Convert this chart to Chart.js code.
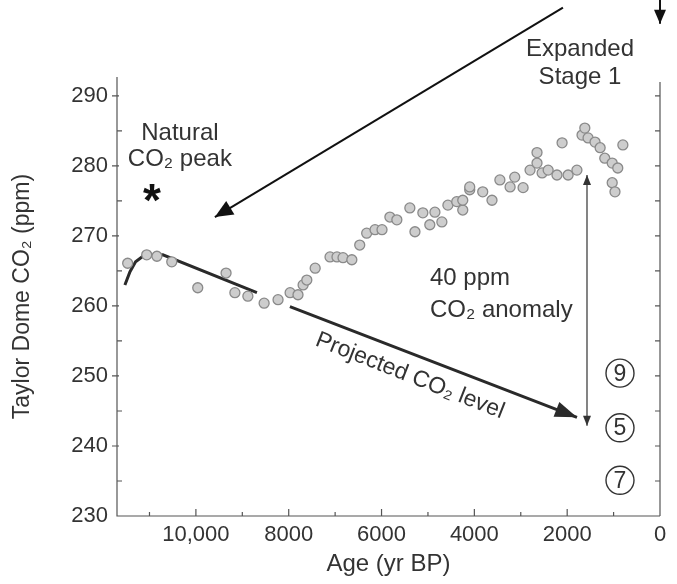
<!DOCTYPE html>
<html>
<head>
<meta charset="utf-8">
<script src="https://cdn.jsdelivr.net/npm/chart.js@4.4.0/dist/chart.umd.min.js"></script>
<style>
html, body { margin: 0; padding: 0; background: #fff; }
#wrap { width: 677px; height: 584px; }
</style>
</head>
<body>
<div id="wrap"><canvas id="co2Chart" width="677" height="584"></canvas></div>
<script>
// axis ticks
const ageTicks = [10000, 8000, 6000, 4000, 2000, 0];
const co2Ticks = [230, 240, 250, 260, 270, 280, 290];

// Taylor Dome samples (age yr BP, CO2 ppm)
const sampleAges = [11470, 11060, 10840, 10520, 9960, 9350, 9160, 8880, 8530, 8230,
    7970, 7800, 7690, 7610, 7430, 7110, 6960, 6830, 6640, 6470,
    6320, 6140, 5990, 5820, 5670, 5390, 5280, 5110, 4960, 4850,
    4700, 4570, 4380, 4250, 4100, 4250, 4100, 3820, 3620, 3450,
    3230, 3130, 2950, 2800, 2650, 2650, 2540, 2410, 2220, 2110,
    1980, 1790, 1680, 1620, 1550, 1400, 1290, 1190, 1030, 910,
    1030, 970, 800];
const sampleCO2 = [266.1, 267.3, 267.1, 266.3, 262.6, 264.7, 261.9, 261.4, 260.4, 260.9,
    261.9, 261.6, 263.0, 263.7, 265.4, 267.0, 267.0, 266.9, 266.6, 268.7,
    270.4, 270.9, 270.9, 272.7, 272.3, 274.0, 270.6, 273.3, 271.6, 273.4,
    272.0, 274.4, 274.9, 273.7, 276.6, 275.1, 277.0, 276.3, 275.1, 278.0,
    277.0, 278.4, 276.9, 279.4, 281.9, 280.4, 279.0, 279.4, 278.7, 283.3,
    278.7, 279.4, 284.4, 285.4, 284.0, 283.4, 282.6, 281.1, 280.4, 279.7,
    277.6, 276.3, 283.0];

// projected natural CO2 trend (null = gap in the line)
const projectedAges = [11530, 11420, 11300, 11142, 10711, 8685, 8300, 7974, 1789];
const projectedCO2 = [263, 264.9, 266.3, 267.1, 267.3, 261.9, null, 259.9, 244.1];

// "Expanded Stage 1" arrow
const stageArrowAges = [2091, 9591];
const stageArrowCO2 = [302.6, 272.7];

// 40 ppm anomaly double arrow
const anomalyAges = [1573, 1573];
const anomalyCO2 = [278.7, 242.9];

// small arrow at the top right
const topArrowAges = [0, 0];
const topArrowCO2 = [304, 300.3];

// circled numbers
const circleLabels = ['9', '5', '7'];
const circleAges = [862, 862, 862];
const circleCO2 = [250.4, 242.6, 235.1];

const FONT = "'Liberation Sans', Arial, sans-serif";
const INK = '#333';

const pts = (xs, ys) => xs.map((x, i) => ({ x: x, y: ys[i] }));

function arrowHead(ctx, tip, from, len, half) {
    const dx = tip.x - from.x, dy = tip.y - from.y;
    const d = Math.hypot(dx, dy) || 1;
    const ux = dx / d, uy = dy / d;
    const bx = tip.x - ux * len, by = tip.y - uy * len;
    ctx.beginPath();
    ctx.moveTo(tip.x, tip.y);
    ctx.lineTo(bx - uy * half, by + ux * half);
    ctx.lineTo(bx + uy * half, by - ux * half);
    ctx.closePath();
    ctx.fill();
}

// hand drawn frame with inward ticks, like the original figure
const framePlugin = {
    id: 'frame',
    afterDraw(chart) {
        const { ctx, chartArea: a, scales: { x, y } } = chart;
        ctx.save();
        ctx.strokeStyle = '#555';
        ctx.lineWidth = 1.2;
        ctx.beginPath();
        ctx.moveTo(a.left, a.top);
        ctx.lineTo(a.left, a.bottom);
        ctx.lineTo(a.right, a.bottom);
        ctx.moveTo(a.right, a.top + 5);
        ctx.lineTo(a.right, a.bottom);
        for (let v = 235; v <= 290; v += 5) {
            const py = y.getPixelForValue(v);
            if (v % 10 === 0) {
                ctx.moveTo(a.left - 5, py); ctx.lineTo(a.left + 2, py);
            } else {
                ctx.moveTo(a.left, py); ctx.lineTo(a.left + 5, py);
            }
            ctx.moveTo(a.right, py); ctx.lineTo(a.right - 5, py);
        }
        for (let v = 1000; v <= 11000; v += 1000) {
            const px = x.getPixelForValue(v);
            ctx.moveTo(px, a.bottom);
            ctx.lineTo(px, a.bottom - (v % 2000 === 0 ? 7 : 4));
        }
        ctx.stroke();
        ctx.restore();
    }
};

const notesPlugin = {
    id: 'notes',
    afterDatasetsDraw(chart) {
        const { ctx, scales: { x, y } } = chart;
        ctx.save();

        // arrow heads
        chart.data.datasets.forEach((ds, i) => {
            if (!ds.heads) return;
            const el = chart.getDatasetMeta(i).data.filter(p => !p.skip);
            ctx.fillStyle = ds.borderColor;
            const [len, half] = ds.headSize;
            if (ds.heads.includes('end')) {
                arrowHead(ctx, el[el.length - 1], el[el.length - 2], len, half);
            }
            if (ds.heads.includes('start')) {
                arrowHead(ctx, el[0], el[1], len, half);
            }
        });

        // circled numbers
        const circleMeta = chart.getDatasetMeta(4);
        ctx.fillStyle = INK;
        ctx.font = '23px ' + FONT;
        ctx.textAlign = 'center';
        ctx.textBaseline = 'middle';
        circleMeta.data.forEach((p, j) => ctx.fillText(circleLabels[j], p.x, p.y + 1));

        const put = (txt, ax, co, align) => {
            ctx.textAlign = align || 'center';
            ctx.fillText(txt, x.getPixelForValue(ax), y.getPixelForValue(co));
        };
        ctx.font = '24px ' + FONT;
        put('Natural', 10345, 284.7);
        put('CO\u2082 peak', 10345, 280.9);
        put('Expanded', 1724, 296.6);
        put('Stage 1', 1724, 292.7);
        put('40 ppm', 4957, 264.0, 'left');
        put('CO\u2082 anomaly', 4957, 259.4, 'left');

        ctx.font = 'bold 46px ' + FONT;
        ctx.fillStyle = '#111';
        put('*', 10948, 274.6);

        ctx.fillStyle = INK;
        ctx.font = '23px ' + FONT;
        ctx.translate(x.getPixelForValue(5388), y.getPixelForValue(250));
        ctx.rotate(21.5 * Math.PI / 180);
        ctx.textAlign = 'center';
        ctx.fillText('Projected CO\u2082 level', 0, 0);
        ctx.restore();
    }
};

const ctx = document.getElementById('co2Chart');

new Chart(ctx, {
    type: 'scatter',
    data: {
        datasets: [{
            label: 'Taylor Dome CO2',
            data: pts(sampleAges, sampleCO2),
            pointStyle: 'circle',
            pointRadius: 5,
            backgroundColor: '#cdcdcd',
            borderColor: '#8a8a8a',
            borderWidth: 1.3
        }, {
            type: 'line',
            label: 'Projected CO2 level',
            data: pts(projectedAges, projectedCO2),
            borderColor: '#2a2a2a',
            borderWidth: 3,
            pointRadius: 0,
            spanGaps: false,
            heads: ['end'],
            headSize: [22, 8]
        }, {
            type: 'line',
            label: 'Expanded Stage 1',
            data: pts(stageArrowAges, stageArrowCO2),
            borderColor: '#111',
            borderWidth: 2,
            pointRadius: 0,
            clip: false,
            heads: ['end'],
            headSize: [18, 8]
        }, {
            type: 'line',
            label: '40 ppm anomaly',
            data: pts(anomalyAges, anomalyCO2),
            borderColor: '#333',
            borderWidth: 1.2,
            pointRadius: 0,
            heads: ['start', 'end'],
            headSize: [10, 4]
        }, {
            label: 'circles',
            data: pts(circleAges, circleCO2),
            pointStyle: 'circle',
            pointRadius: 14,
            backgroundColor: '#fff',
            borderColor: '#333',
            borderWidth: 1.4
        }, {
            type: 'line',
            label: 'top arrow',
            data: pts(topArrowAges, topArrowCO2),
            borderColor: '#111',
            borderWidth: 2,
            pointRadius: 0,
            clip: false,
            heads: ['end'],
            headSize: [14, 6]
        }]
    },
    options: {
        responsive: false,
        animation: false,
        layout: { padding: { top: 77, right: 17, left: 0, bottom: 0 } },
        plugins: {
            legend: { display: false },
            tooltip: { enabled: false }
        },
        scales: {
            x: {
                type: 'linear',
                reverse: true,
                min: 0,
                max: 11700,
                afterBuildTicks: s => { s.ticks = ageTicks.map(v => ({ value: v })); },
                afterFit: s => { s.height = 68; },
                grid: { display: false, drawTicks: false },
                border: { display: false },
                ticks: {
                    padding: 6,
                    color: INK,
                    font: { family: FONT, size: 22 },
                    maxRotation: 0,
                    callback: v => v === 10000 ? '10,000' : String(v)
                },
                title: {
                    display: true,
                    text: 'Age (yr BP)',
                    color: INK,
                    font: { family: FONT, size: 24 },
                    padding: { top: 0, bottom: 5 }
                }
            },
            y: {
                min: 230,
                max: 292.7,
                afterBuildTicks: s => { s.ticks = co2Ticks.map(v => ({ value: v })); },
                afterFit: s => { s.width = 117; },
                grid: { display: false, drawTicks: false },
                border: { display: false },
                ticks: {
                    padding: 9,
                    color: INK,
                    font: { family: FONT, size: 22 }
                },
                title: {
                    display: true,
                    text: 'Taylor Dome CO\u2082 (ppm)',
                    color: INK,
                    font: { family: FONT, size: 23 },
                    padding: { top: 9, bottom: 0 }
                }
            }
        }
    },
    plugins: [framePlugin, notesPlugin]
});
</script>
</body>
</html>
